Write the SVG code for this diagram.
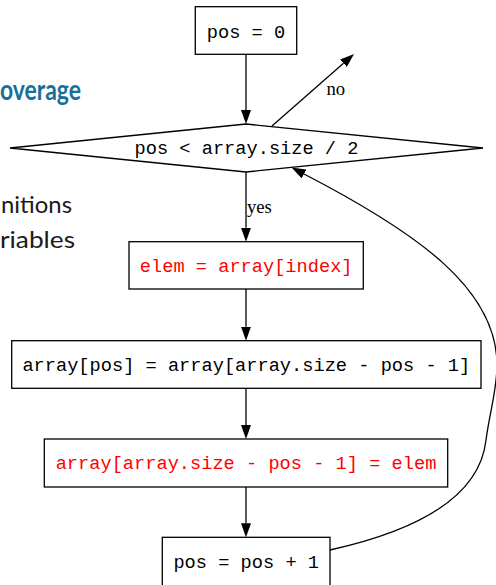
<svg xmlns="http://www.w3.org/2000/svg" width="496" height="585" viewBox="0 0 496 585">
<style>
.box{fill:#fff;stroke:#000;stroke-width:1.3}
.code{font-family:"Liberation Mono","Courier New",monospace;font-size:18.67px;text-anchor:middle;fill:#000}
.red{fill:#ff0000}
.edge{fill:none;stroke:#000;stroke-width:1.3}
.lbl{font-family:"Liberation Serif","Times New Roman",serif;font-size:18.67px;fill:#000}
.side{font-family:"Lato","Open Sans",sans-serif;font-size:24px;fill:#1a1a1a}
</style>
<defs>
<marker id="ah" markerWidth="14" markerHeight="10" refX="0" refY="5" orient="auto" markerUnits="userSpaceOnUse">
<path d="M0,0 L14,5 L0,10 z" fill="#000"/>
</marker>
</defs>
<rect width="496" height="585" fill="#fff"/>
<g id="background-text">
<text x="0" y="100.3" font-family="Lato,'Open Sans',sans-serif" font-weight="bold" font-size="29px" fill="#17709a" textLength="81" lengthAdjust="spacingAndGlyphs">overage</text>
<text class="side" x="1" y="212.5" textLength="71" lengthAdjust="spacingAndGlyphs">nitions</text>
<text class="side" x="0" y="247.5" textLength="75" lengthAdjust="spacingAndGlyphs">riables</text>
</g>
<g id="edges">
<line class="edge" x1="246" y1="55" x2="246" y2="110" marker-end="url(#ah)"/>
<line class="edge" x1="272" y1="126" x2="343.5" y2="63.2" marker-end="url(#ah)"/>
<line class="edge" x1="246" y1="172" x2="246" y2="227.7" marker-end="url(#ah)"/>
<line class="edge" x1="246" y1="289" x2="246" y2="326.7" marker-end="url(#ah)"/>
<line class="edge" x1="246" y1="388.3" x2="246" y2="425" marker-end="url(#ah)"/>
<line class="edge" x1="246" y1="487" x2="246" y2="523.3" marker-end="url(#ah)"/>
<path class="edge" d="M330,550 C420,530 480,495 486,440 C490,410 497,390 497,365 C497,290 420,234 304,174" marker-end="url(#ah)"/>
<text class="lbl" x="326.5" y="95">no</text>
<text class="lbl" x="247" y="213">yes</text>
</g>
<g id="n-init">
<rect class="box" x="195.3" y="6.7" width="101.4" height="47.6"/>
<text class="code" x="246" y="37.5">pos = 0</text>
</g>
<g id="n-cond">
<polygon class="box" points="246,124 483,148 246,172 10,148"/>
<text class="code" x="246.5" y="154">pos &lt; array.size / 2</text>
</g>
<g id="n-elem">
<rect class="box" x="129" y="241.7" width="234.3" height="47.3"/>
<text class="code red" x="246.2" y="271.7">elem = array[index]</text>
</g>
<g id="n-swap1">
<rect class="box" x="11.7" y="340.7" width="469.3" height="47.6"/>
<text class="code" x="246.3" y="371">array[pos] = array[array.size - pos - 1]</text>
</g>
<g id="n-swap2">
<rect class="box" x="44.3" y="439" width="403.4" height="48"/>
<text class="code red" x="246" y="469">array[array.size - pos - 1] = elem</text>
</g>
<g id="n-inc">
<rect class="box" x="162.3" y="537.3" width="167.7" height="50"/>
<text class="code" x="246.2" y="568.3">pos = pos + 1</text>
</g>
</svg>
